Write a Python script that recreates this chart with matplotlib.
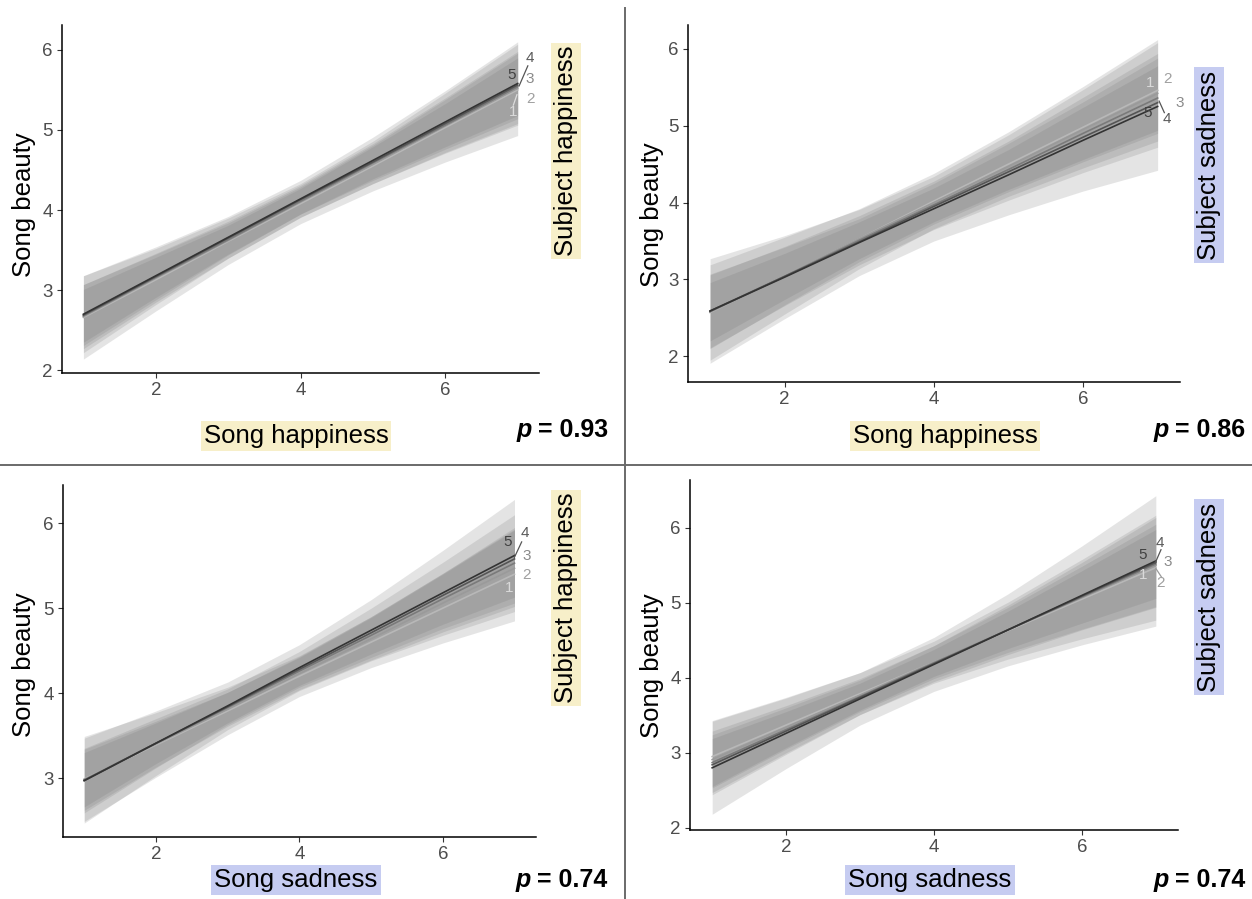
import numpy as np
import matplotlib
matplotlib.use("Agg")
import matplotlib.pyplot as plt

plt.rcParams['font.family'] = ['Liberation Sans', 'DejaVu Sans']

W, H = 1252, 899

# ---------------- data ----------------
x_pts = [1, 2, 3, 4, 5, 6, 7]
levels = ['1', '2', '3', '4', '5']

# Panel 1: Song happiness x Subject happiness
p1_fit = [[2.66, 3.13, 3.61, 4.08, 4.55, 5.03, 5.50],
          [2.67, 3.15, 3.62, 4.10, 4.57, 5.05, 5.52],
          [2.68, 3.16, 3.63, 4.11, 4.59, 5.06, 5.54],
          [2.69, 3.17, 3.65, 4.13, 4.60, 5.08, 5.56],
          [2.70, 3.18, 3.66, 4.14, 4.62, 5.10, 5.58]]
p1_hw = [[0.52, 0.39, 0.29, 0.25, 0.31, 0.43, 0.57],
         [0.40, 0.30, 0.22, 0.19, 0.24, 0.33, 0.44],
         [0.33, 0.25, 0.18, 0.16, 0.20, 0.27, 0.36],
         [0.38, 0.29, 0.21, 0.18, 0.23, 0.32, 0.42],
         [0.48, 0.36, 0.26, 0.23, 0.29, 0.39, 0.52]]

# Panel 2: Song happiness x Subject sadness
p2_fit = [[2.57, 3.05, 3.53, 4.02, 4.50, 4.98, 5.46],
          [2.58, 3.05, 3.53, 4.00, 4.47, 4.95, 5.42],
          [2.58, 3.04, 3.51, 3.97, 4.43, 4.90, 5.36],
          [2.59, 3.04, 3.49, 3.95, 4.40, 4.85, 5.30],
          [2.59, 3.03, 3.48, 3.92, 4.36, 4.81, 5.25]]
p2_hw = [[0.62, 0.50, 0.39, 0.36, 0.42, 0.53, 0.66],
         [0.48, 0.38, 0.30, 0.28, 0.33, 0.42, 0.52],
         [0.38, 0.30, 0.24, 0.22, 0.26, 0.34, 0.42],
         [0.48, 0.38, 0.30, 0.30, 0.37, 0.46, 0.58],
         [0.68, 0.54, 0.43, 0.42, 0.52, 0.66, 0.83]]

# Panel 3: Song sadness x Subject happiness
p3_fit = [[2.99, 3.39, 3.79, 4.20, 4.60, 5.00, 5.40],
          [2.98, 3.40, 3.81, 4.23, 4.64, 5.06, 5.47],
          [2.98, 3.41, 3.83, 4.26, 4.68, 5.11, 5.53],
          [2.97, 3.41, 3.84, 4.28, 4.71, 5.15, 5.58],
          [2.97, 3.41, 3.85, 4.30, 4.74, 5.18, 5.62]]
p3_hw = [[0.50, 0.38, 0.28, 0.24, 0.30, 0.41, 0.55],
         [0.36, 0.27, 0.20, 0.19, 0.25, 0.34, 0.45],
         [0.32, 0.24, 0.18, 0.17, 0.22, 0.30, 0.40],
         [0.38, 0.29, 0.21, 0.21, 0.29, 0.39, 0.52],
         [0.50, 0.38, 0.28, 0.27, 0.36, 0.50, 0.66]]

# Panel 4: Song sadness x Subject sadness
p4_fit = [[2.95, 3.37, 3.79, 4.21, 4.63, 5.05, 5.47],
          [2.91, 3.34, 3.77, 4.21, 4.64, 5.07, 5.50],
          [2.87, 3.31, 3.75, 4.20, 4.64, 5.08, 5.52],
          [2.84, 3.29, 3.74, 4.19, 4.64, 5.09, 5.54],
          [2.80, 3.26, 3.72, 4.18, 4.64, 5.10, 5.56]]
p4_hw = [[0.48, 0.37, 0.28, 0.28, 0.38, 0.53, 0.70],
         [0.38, 0.29, 0.22, 0.22, 0.30, 0.42, 0.55],
         [0.32, 0.24, 0.18, 0.18, 0.25, 0.35, 0.46],
         [0.40, 0.31, 0.23, 0.24, 0.33, 0.45, 0.60],
         [0.62, 0.47, 0.35, 0.36, 0.48, 0.66, 0.87]]

x_labels = ['Song happiness', 'Song happiness', 'Song sadness', 'Song sadness']
mod_labels = ['Subject happiness', 'Subject sadness', 'Subject happiness', 'Subject sadness']
p_values = ['0.93', '0.86', '0.74', '0.74']
x_ticks = [2, 4, 6]
y_ticks = [2, 3, 4, 5, 6]

# ---------------- style ----------------
line_cols = ['#b8b8b8', '#9a9a9a', '#7a7a7a', '#555555', '#333333']
label_cols = ['#dadada', '#a0a0a0', '#8a8a8a', '#5a5a5a', '#404040']
YELLOW = '#f7efc9'
BLUE = '#c6ccf1'
xbox_cols = [YELLOW, YELLOW, BLUE, BLUE]
modbox_cols = [YELLOW, BLUE, YELLOW, BLUE]
LABEL_FS = 18.5

fig = plt.figure(figsize=(W / 100, H / 100), dpi=100)


def rect(l, r, t, b):
    return [l / W, 1 - b / H, (r - l) / W, (b - t) / H]


panels = [
    dict(fit=p1_fit, hw=p1_hw, rect=rect(61.7, 539.4, 25, 372.7), ylim=(1.97, 6.31),
         ylab=(24, 205), xlab=(296, 436), mod=(566, 151), p=(608, 430),
         lab_pos=[(6.94, 5.23), (7.18, 5.39), (7.17, 5.64), (7.17, 5.90), (6.92, 5.69)],
         conns=[(3, 7.02, 5.55, 7.14, 5.80), (0, 6.99, 5.44, 6.94, 5.31)]),
    dict(fit=p2_fit, hw=p2_hw, rect=rect(687.7, 1180, 25, 381.7), ylim=(1.67, 6.31),
         ylab=(652, 215), xlab=(945, 436), mod=(1209, 165), p=(1245, 430),
         lab_pos=[(6.90, 5.56), (7.13, 5.61), (7.30, 5.30), (7.13, 5.09), (6.87, 5.17)],
         conns=[(3, 7.02, 5.32, 7.09, 5.17)]),
    dict(fit=p3_fit, hw=p3_hw, rect=rect(62.7, 536, 485, 836.7), ylim=(2.31, 6.45),
         ylab=(24, 665), xlab=(296, 880), mod=(566, 598), p=(607, 880),
         lab_pos=[(6.92, 5.24), (7.17, 5.39), (7.17, 5.62), (7.15, 5.88), (6.90, 5.78)],
         conns=[(3, 7.00, 5.60, 7.10, 5.78)]),
    dict(fit=p4_fit, hw=p4_hw, rect=rect(690, 1178, 480, 830), ylim=(1.97, 6.64),
         ylab=(652, 666), xlab=(930, 880), mod=(1209, 597), p=(1245, 880),
         lab_pos=[(6.83, 5.37), (7.06, 5.26), (7.16, 5.55), (7.06, 5.80), (6.82, 5.64)],
         conns=[(3, 6.99, 5.53, 7.07, 5.71), (1, 7.00, 5.46, 7.08, 5.34)]),
]

p_texts = []
for i, P in enumerate(panels):
    ax = fig.add_axes(P['rect'])
    fit = np.array(P['fit'])
    hw = np.array(P['hw'])
    for k in range(5):
        ax.fill_between(x_pts, fit[k] - hw[k], fit[k] + hw[k], color='#737373',
                        alpha=0.19, lw=0, zorder=1)
    for k in range(5):
        ax.plot(x_pts, fit[k], color=line_cols[k], lw=1.2, zorder=3)
    for k in range(5):
        lx, ly = P['lab_pos'][k]
        ax.text(lx, ly, levels[k], color=label_cols[k], fontsize=11,
                ha='center', va='center', zorder=5, clip_on=False)
    for (k, x0, y0, x1, y1) in P['conns']:
        col = line_cols[k] if k != 0 else '#dddddd'
        ax.plot([x0, x1], [y0, y1], color=col, lw=0.9, zorder=4, clip_on=False)

    ax.set_xlim(0.7, 7.3)
    ax.set_ylim(*P['ylim'])
    ax.set_xticks(x_ticks)
    ax.set_yticks([t for t in y_ticks if P['ylim'][0] <= t <= P['ylim'][1]])
    for s in ['top', 'right']:
        ax.spines[s].set_visible(False)
    for s in ['left', 'bottom']:
        ax.spines[s].set_color('black')
        ax.spines[s].set_linewidth(1.1)
    ax.tick_params(length=3.5, width=0.8, color='#333333', labelsize=13.5,
                   labelcolor='#4d4d4d', pad=3)
    ax.patch.set_alpha(0)

    fig.text(P['ylab'][0] / W, 1 - P['ylab'][1] / H, 'Song beauty', rotation=90,
             ha='center', va='center', fontsize=LABEL_FS, color='black')
    fig.text(P['xlab'][0] / W, 1 - P['xlab'][1] / H, x_labels[i], ha='center', va='center',
             fontsize=LABEL_FS, color='black',
             bbox=dict(boxstyle='square,pad=0.12', fc=xbox_cols[i], ec='none'))
    fig.text(P['mod'][0] / W, 1 - P['mod'][1] / H, mod_labels[i], rotation=90,
             ha='center', va='center', fontsize=LABEL_FS, color='black',
             bbox=dict(boxstyle='square,pad=0.12', fc=modbox_cols[i], ec='none'))
    t = fig.text(P['p'][0] / W, 1 - P['p'][1] / H, '= ' + p_values[i], ha='right',
                 va='center', fontsize=18, fontweight='bold', color='black')
    p_texts.append((t, P['p']))

fig.canvas.draw()
r = fig.canvas.get_renderer()
for t, (xr, yc) in p_texts:
    bb = t.get_window_extent(r)
    fig.text((bb.x0 - 6) / W, 1 - yc / H, 'p', ha='right', va='center', fontsize=18,
             fontweight='bold', fontstyle='italic', color='black')

fig.add_artist(plt.Line2D([625 / W, 625 / W], [0, 1 - 8 / H], transform=fig.transFigure,
                          color='#6a6a6a', lw=1.4))
fig.add_artist(plt.Line2D([0, 1], [1 - 465 / H, 1 - 465 / H], transform=fig.transFigure,
                          color='#6a6a6a', lw=1.4))

fig.savefig('out.png', dpi=100, facecolor='white')
